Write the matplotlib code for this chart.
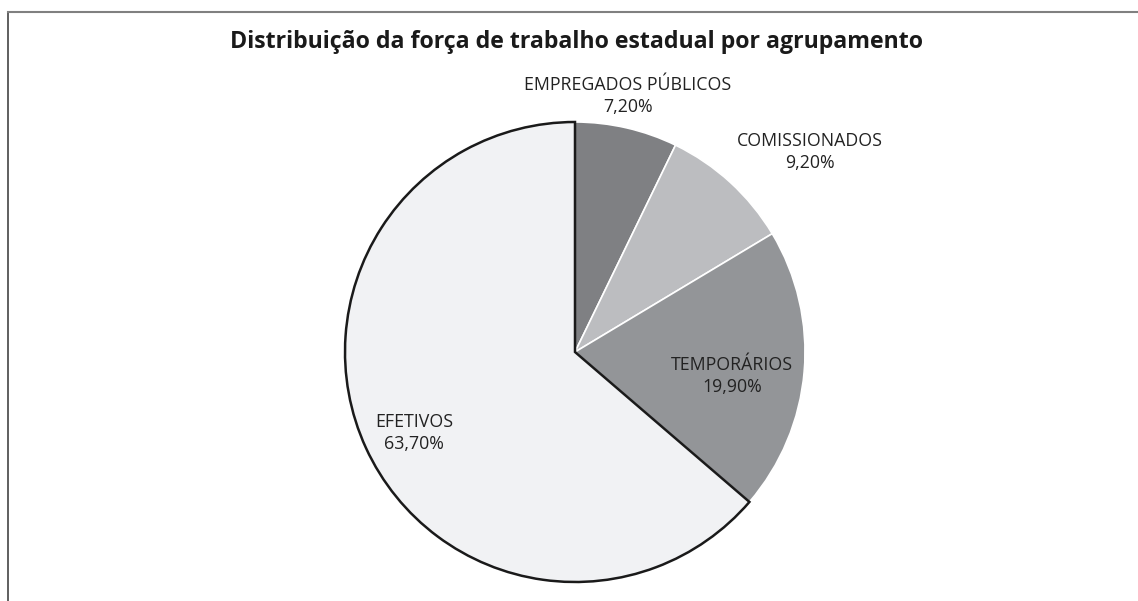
import matplotlib
matplotlib.use("Agg")
import matplotlib.pyplot as plt
from matplotlib.lines import Line2D

plt.rcParams['font.family'] = ['Open Sans', 'DejaVu Sans']

title = "Distribuição da força de trabalho estadual por agrupamento"
categories = ["EMPREGADOS PÚBLICOS", "COMISSIONADOS", "TEMPORÁRIOS", "EFETIVOS"]
values = [7.2, 9.2, 19.9, 63.7]
pct_labels = ["7,20%", "9,20%", "19,90%", "63,70%"]
colors = ["#7f8083", "#bcbdc0", "#939598", "#f1f2f4"]

W, H = 1138, 601
fig = plt.figure(figsize=(W / 100, H / 100), dpi=100)

# pie axes: centre (575, 352) px, radius 230 px
cx, cy, r = 575, 352, 230
ax = fig.add_axes([(cx - r) / W, (H - cy - r) / H, 2 * r / W, 2 * r / H])
wedges, _ = ax.pie(values, colors=colors, startangle=90, counterclock=False,
                   wedgeprops=dict(edgecolor="white", linewidth=1.2))
wedges[3].set_edgecolor("#1a1a1a")
wedges[3].set_linewidth(1.8)
wedges[3].set_zorder(3)
ax.set_xlim(-1, 1)
ax.set_ylim(-1, 1)
ax.set_aspect("equal")
ax.axis("off")

# label positions in pixels (centre of the two-line block)
label_px = [(628, 96), (810, 152), (732, 376), (414, 433)]
for (px, py), cat, pct in zip(label_px, categories, pct_labels):
    ax.text((px - cx) / r, (cy - py) / r, cat + "\n" + pct, ha="center", va="center",
            fontsize=12.8, color="#222222", linespacing=1.25, zorder=5)

fig.text(577 / W, 1 - 42 / H, title, ha="center", va="center",
         fontsize=16.7, fontweight="bold", color="#1a1a1a")

# frame (left and top only)
fig.add_artist(Line2D([8 / W, 8 / W], [0, 1 - 12 / H], color="#444444", linewidth=1.2))
fig.add_artist(Line2D([8 / W, 1], [1 - 12 / H, 1 - 12 / H], color="#808080", linewidth=1.5))

fig.savefig("out.png", dpi=100)
